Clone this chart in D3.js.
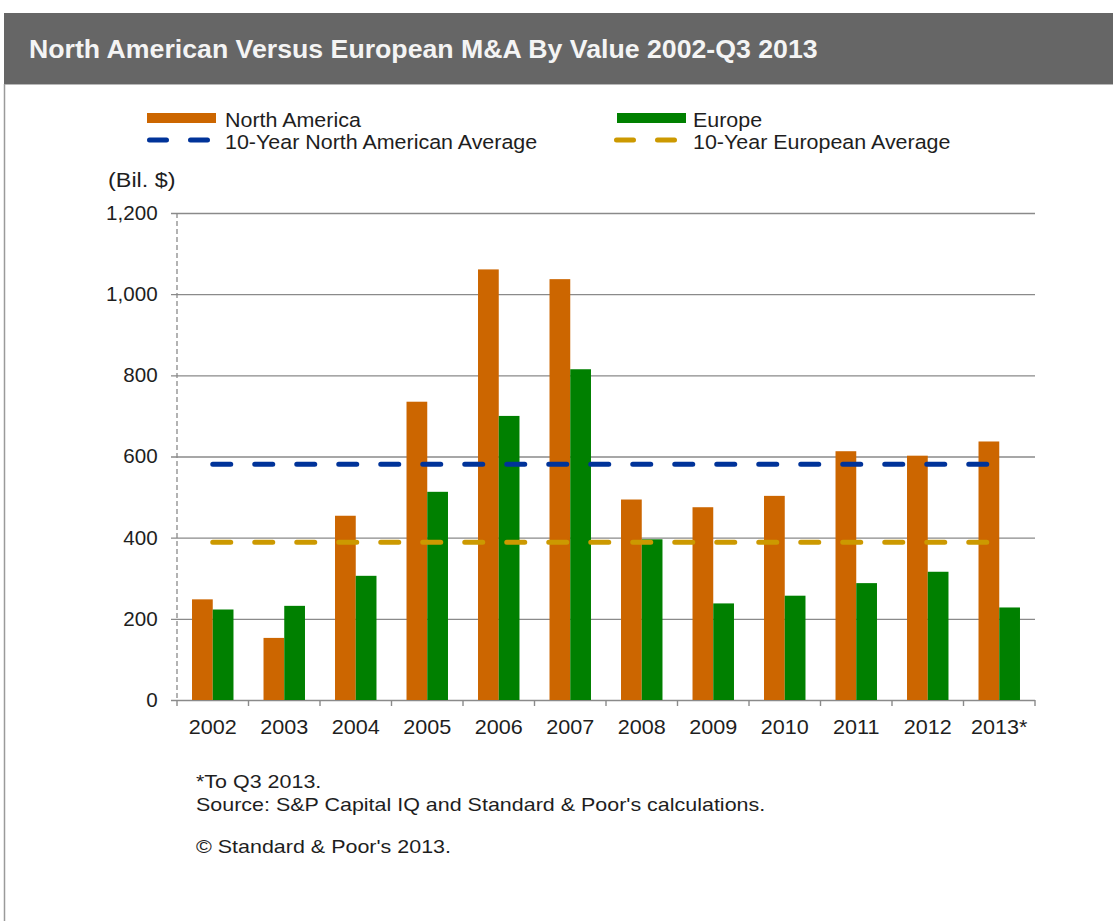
<!DOCTYPE html>
<html><head><meta charset="utf-8">
<script src="https://cdn.jsdelivr.net/npm/d3@7"></script>
<style>
body{margin:0;background:#fff;}
svg text{font-family:"Liberation Sans",Arial,sans-serif;}
</style>
</head><body>
<svg id="chart" width="1113" height="921"></svg>
<script>
// ---- data ----
const title = "North American Versus European M&A By Value 2002-Q3 2013";
const years = ["2002","2003","2004","2005","2006","2007","2008","2009","2010","2011","2012","2013*"];
const northAmerica = [248, 153, 454, 735, 1061, 1037, 494, 475, 503, 613, 602, 637];
const europe = [223, 232, 306, 513, 700, 815, 396, 238, 257, 288, 316, 228];
const northAmericaAvg = 581;
const europeAvg = 389;
const yTicks = [0, 200, 400, 600, 800, 1000, 1200];
const seriesNames = ["North America", "Europe"];
const avgNames = ["10-Year North American Average", "10-Year European Average"];
const unitLabel = "(Bil. $)";
const footnotes = ["*To  Q3 2013.", "Source: S&P Capital IQ and Standard & Poor's calculations.", "© Standard & Poor's 2013."];

// ---- styles ----
const C_NA = "#cc6600", C_EU = "#008000", C_NAAVG = "#003399", C_EUAVG = "#cc9900";
const TXT = "#1e1e1e", GRID = "#8a8a8a";

const svg = d3.select("#chart");

// frame & title bar
svg.append("rect").attr("x", 4).attr("y", 13).attr("width", 1109).attr("height", 71).attr("fill", "#666666");
svg.append("line").attr("x1", 4).attr("x2", 1113).attr("y1", 84.5).attr("y2", 84.5).attr("stroke", "#b8b8b8").attr("stroke-width", 1);
svg.append("line").attr("x1", 4.5).attr("x2", 4.5).attr("y1", 84).attr("y2", 921).attr("stroke", "#9a9a9a").attr("stroke-width", 1.5);
svg.append("text").attr("x", 29).attr("y", 58).attr("fill", "#f4f4f4")
  .attr("font-size", 26.7).attr("font-weight", "bold").text(title);

function txt(x, y, s, size, sx, anchor) {
  const g = svg.append("g").attr("transform", `translate(${x},${y}) scale(${sx},1)`);
  g.append("text").attr("font-size", size).attr("fill", TXT).attr("text-anchor", anchor || "start").text(s);
  return g;
}

// scales
const y = d3.scaleLinear().domain([0, 1200]).range([700, 213]);
const x0 = d3.scaleBand().domain(years).range([177, 1035]);
const bw = x0.bandwidth();
const x1 = d3.scaleBand().domain(seriesNames).range([bw * 0.21, bw * 0.79]);

// gridlines + y labels
const yAxis = d3.axisLeft(y).tickValues(yTicks).tickFormat(d3.format(","))
  .tickSize(-(1035 - 171)).tickPadding(13);
const yg = svg.append("g").attr("transform", "translate(171,0)").call(yAxis);
yg.select(".domain").remove();
yg.selectAll(".tick line").attr("stroke", GRID).attr("stroke-width", 1.4);
yg.selectAll(".tick text").attr("font-size", 20).attr("fill", TXT)
  .attr("font-family", null).attr("transform", "scale(1.03,1)");

// dashed y axis line
svg.append("line").attr("x1", 177).attr("x2", 177).attr("y1", y(1200)).attr("y2", y(0))
  .attr("stroke", "#8a8a8a").attr("stroke-width", 1.3).attr("stroke-dasharray", "5,3");

// x axis ticks at band boundaries
const bounds = years.map(d => x0(d)).concat([x0.range()[1]]);
svg.append("g").selectAll("line").data(bounds).join("line")
  .attr("x1", d => d).attr("x2", d => d).attr("y1", y(0)).attr("y2", y(0) + 6)
  .attr("stroke", GRID).attr("stroke-width", 1.4);

// x labels
const xAxis = d3.axisBottom(x0).tickSize(0).tickPadding(20);
const xg = svg.append("g").attr("transform", `translate(0,${y(0)})`).call(xAxis);
xg.select(".domain").remove();
xg.selectAll(".tick text").attr("font-size", 20).attr("fill", TXT)
  .attr("font-family", null).attr("transform", "scale(1.08,1)");

// bars
const rows = years.map((yr, i) => ({ year: yr, vals: [northAmerica[i], europe[i]] }));
const grp = svg.append("g").selectAll("g").data(rows).join("g")
  .attr("transform", d => `translate(${x0(d.year)},0)`);
grp.selectAll("rect").data(d => d.vals.map((v, j) => ({ s: seriesNames[j], v })))
  .join("rect")
  .attr("x", d => x1(d.s)).attr("width", x1.bandwidth())
  .attr("y", d => y(d.v)).attr("height", d => y(0) - y(d.v))
  .attr("fill", d => d.s === seriesNames[0] ? C_NA : C_EU);

// average lines
const xs = x0(years[0]) + bw / 2, xe = x0(years[years.length - 1]) + bw / 2;
[[northAmericaAvg, C_NAAVG], [europeAvg, C_EUAVG]].forEach(([v, c]) => {
  svg.append("line").attr("x1", xs).attr("x2", xe).attr("y1", y(v)).attr("y2", y(v))
    .attr("stroke", c).attr("stroke-width", 5).attr("stroke-linecap", "round")
    .attr("stroke-dasharray", "18,24");
});

// legend
svg.append("rect").attr("x", 147).attr("y", 113).attr("width", 69).attr("height", 10).attr("fill", C_NA);
svg.append("rect").attr("x", 617).attr("y", 113).attr("width", 69).attr("height", 10).attr("fill", C_EU);
svg.append("line").attr("x1", 149.5).attr("x2", 208).attr("y1", 140).attr("y2", 140)
  .attr("stroke", C_NAAVG).attr("stroke-width", 5).attr("stroke-linecap", "round").attr("stroke-dasharray", "17,24");
svg.append("line").attr("x1", 616.5).attr("x2", 676).attr("y1", 140).attr("y2", 140)
  .attr("stroke", C_EUAVG).attr("stroke-width", 5).attr("stroke-linecap", "round").attr("stroke-dasharray", "17,24");
txt(225, 127, seriesNames[0], 19.5, 1.1);
txt(693, 127, seriesNames[1], 19.5, 1.1);
txt(225, 149, avgNames[0], 19.5, 1.1);
txt(693, 149, avgNames[1], 19.5, 1.1);

// unit label
txt(108, 187, unitLabel, 19.5, 1.2);

// footnotes
txt(196, 788, footnotes[0], 19, 1.13);
txt(196, 811, footnotes[1], 19, 1.13);
txt(196, 853, footnotes[2], 19, 1.13);
</script>
</body></html>
